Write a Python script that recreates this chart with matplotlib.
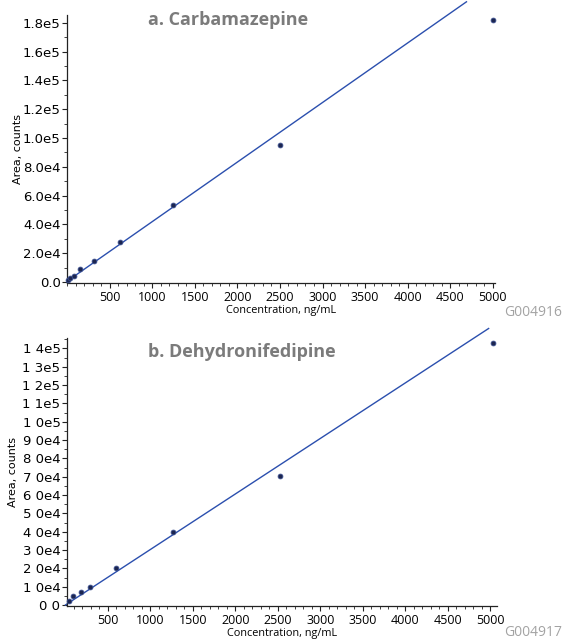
import matplotlib
matplotlib.use("Agg")
import matplotlib.pyplot as plt
from matplotlib.ticker import MultipleLocator, FixedLocator

# ---- data ----
conc_a = [10, 39, 78, 156, 312, 625, 1250, 2500, 5000]
area_a = [1200, 2500, 4500, 8800, 14400, 27800, 53500, 95200, 182000]
fit_a_x = [0, 4690]
fit_a_slope = 41.4
fit_a_icpt = 500

conc_b = [45, 95, 180, 285, 600, 1260, 2520, 5030]
area_b = [2300, 4700, 7100, 10000, 20300, 39700, 70400, 143100]
fit_b_x = [0, 4980]
fit_b_slope = 30.3
fit_b_icpt = 0

xticks = [500, 1000, 1500, 2000, 2500, 3000, 3500, 4000, 4500, 5000]
xticklabels = [str(v) for v in xticks]

yticks_a = [0, 20000, 40000, 60000, 80000, 100000, 120000, 140000, 160000, 180000]
yticklabels_a = ["0.0", "2.0e4", "4.0e4", "6.0e4", "8.0e4", "1.0e5", "1.2e5", "1.4e5", "1.6e5", "1.8e5"]
yticks_b = list(range(0, 150000, 10000))
yticklabels_b = ["0 0", "1 0e4", "2 0e4", "3 0e4", "4 0e4", "5 0e4", "6 0e4", "7 0e4", "8 0e4",
                 "9 0e4", "1 0e5", "1 1e5", "1 2e5", "1 3e5", "1 4e5"]

titles = ["a. Carbamazepine", "b. Dehydronifedipine"]
codes = ["G004916", "G004917"]
xlabel = "Concentration, ng/mL"
ylabel = "Area, counts"

W, H = 563, 643
fig = plt.figure(figsize=(W / 100, H / 100), dpi=100)

line_col = "#2b4fae"
mark_col = "#1c2650"
title_col = "#7b7b7b"
code_col = "#a3a3a3"


def make_panel(rect, conc, area, fx, slope, icpt, xlim, ylim, yt, ytl, title, code,
               ylab_x, title_y, code_y, minor_y):
    ax = fig.add_axes(rect)
    for s in ["top", "right"]:
        ax.spines[s].set_visible(False)
    for s in ["left", "bottom"]:
        ax.spines[s].set_linewidth(0.9)
        ax.spines[s].set_color("#222222")
    fy = [slope * v + icpt for v in fx]
    ax.plot(fx, fy, color=line_col, lw=1.0, clip_on=False, zorder=2)
    ax.scatter(conc, area, s=12, color=mark_col, edgecolor="#3b4f8f", linewidth=0.6,
               zorder=3, clip_on=False)
    ax.set_xlim(*xlim)
    ax.set_ylim(*ylim)
    ax.set_xticks(xticks)
    ax.set_xticklabels(xticklabels, fontfamily="Open Sans", fontsize=9)
    ax.xaxis.set_minor_locator(MultipleLocator(100))
    ax.set_yticks(yt)
    ax.set_yticklabels(ytl, fontfamily="DejaVu Sans", fontsize=9.5)
    ax.yaxis.set_minor_locator(FixedLocator(minor_y))
    ax.tick_params(axis="both", which="major", length=3.5, width=0.8, pad=1.0, color="#222222")
    ax.tick_params(axis="both", which="minor", length=2, width=0.6, color="#222222")
    ax.tick_params(axis="x", which="major", pad=2)
    ax.set_xlabel(xlabel, fontfamily="Open Sans", fontsize=7.8, labelpad=1)
    ax.set_ylabel(ylabel, fontfamily="DejaVu Sans", fontsize=8)
    ax.yaxis.set_label_coords(ylab_x, 0.5)
    fig.text(148 / W, 1 - title_y / H, title, fontfamily="Open Sans", fontweight="bold",
             fontsize=13, color=title_col, ha="left", va="center")
    fig.text(563 / W - 0.002, 1 - code_y / H, code, fontfamily="Open Sans",
             fontsize=10, color=code_col, ha="right", va="center")
    return ax


minor_a = [v + 10000 for v in yticks_a]
minor_b = [v + 5000 for v in yticks_b]

make_panel([67 / W, 1 - 283 / H, 428 / W, 268 / H], conc_a, area_a, fit_a_x, fit_a_slope,
           fit_a_icpt, (0, 5025), (-700, 185500), yticks_a, yticklabels_a, titles[0], codes[0],
           -0.103, 20, 312, minor_a)
make_panel([66.7 / W, 1 - 606 / H, 430 / W, 268 / H], conc_b, area_b, fit_b_x, fit_b_slope,
           fit_b_icpt, (15, 5075), (-550, 145700), yticks_b, yticklabels_b, titles[1], codes[1],
           -0.113, 352, 632, minor_b)

fig.savefig("out.png", dpi=100)
